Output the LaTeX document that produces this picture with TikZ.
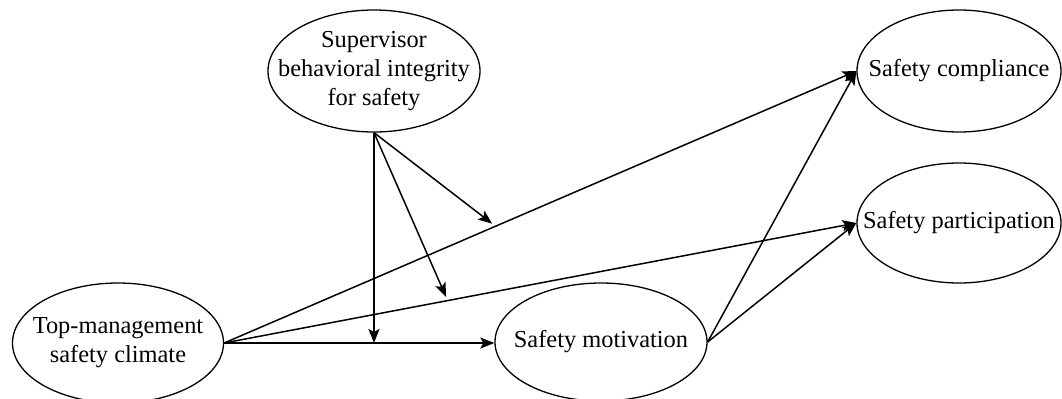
\documentclass[tikz,border=0pt]{standalone}
\usepackage{fontspec}
\setmainfont{Liberation Serif}
\usetikzlibrary{shapes.geometric,arrows.meta,calc}
\begin{document}
\begin{tikzpicture}[x=0.5pt,y=-0.5pt,
  var/.style={draw,ellipse,line width=0.65pt,inner sep=0pt},
  txt/.style={inner sep=0pt,align=center,font=\fontsize{12.2}{14.4}\selectfont},
  arr/.style={line width=0.75pt,-{Stealth[length=7pt,width=5.5pt,inset=1.5pt]}}]
\useasboundingbox (0,0) rectangle (1062,398);
\node[var,minimum width=106pt,minimum height=61pt] (sup) at (374,71) {};
\node[txt] (supt) at (sup) {Supervisor\\behavioral integrity\\for safety};
\node[var,minimum width=105.5pt,minimum height=60pt] (tm) at (118,343) {};
\node[txt] (tmt) at (tm) {Top-management\\safety climate};
\node[var,minimum width=106pt,minimum height=59pt] (sm) at (601,342) {};
\node[txt] (smt) at (sm) {Safety motivation};
\node[var,minimum width=102pt,minimum height=61pt] (sc) at (959,71) {};
\node[txt] (sct) at (sc) {Safety compliance};
\node[var,minimum width=102pt,minimum height=60pt] (sp) at (959,223) {};
\node[txt] (spt) at (sp) {Safety participation};
\draw[arr] (tm.east) -- (tm.east -| sm.west);
\draw[arr] (tm.east) -- (sc.west);
\draw[arr] (tm.east) -- (sp.west);
\draw[arr] (sm.east) -- (sc.west);
\draw[arr] (sm.east) -- (sp.west);
\coordinate (m1) at ($(tm.east)!0.424!(sc.west)+(0,-4)$);
\coordinate (m2) at ($(tm.east)!0.351!(sp.west)+(0,-4)$);
\draw[arr] (sup.south) -- (sup.south |- tm.east);
\draw[arr] (sup.south) -- (m1);
\draw[arr] (sup.south) -- (m2);
\end{tikzpicture}
\end{document}
